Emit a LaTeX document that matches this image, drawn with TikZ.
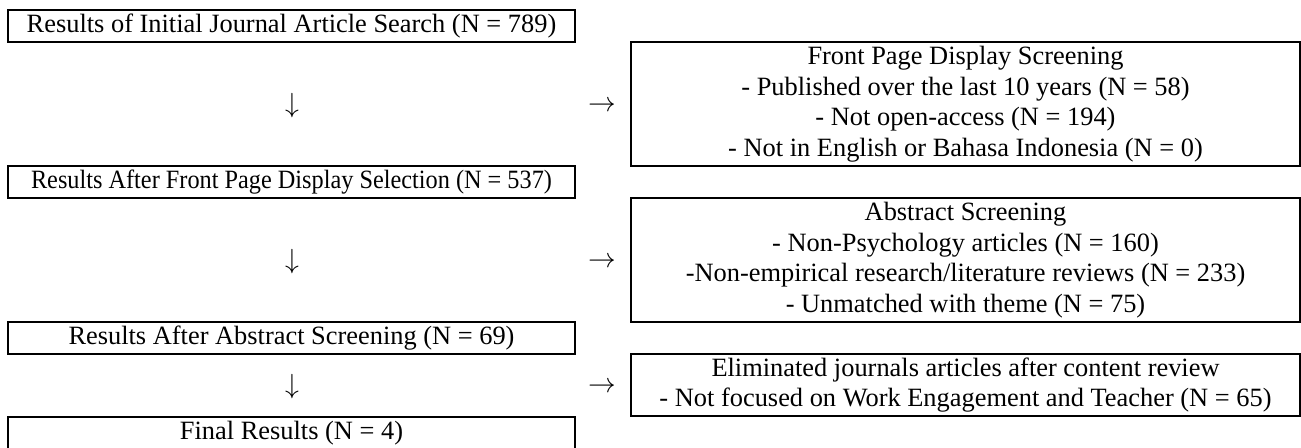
\documentclass[tikz,border=0pt]{standalone}
\usepackage{fontspec}
\setmainfont{Liberation Serif}
\newdimen\pxu
\pxu=0.75pt
\begin{document}
\begin{tikzpicture}[x=0.75pt,y=-0.75pt,
  txt/.style={font=\fontsize{19.8pt}{22.9pt}\selectfont},
  box/.style={txt,draw=black,line width=1.1pt,inner sep=0pt,align=center,rectangle},
  leftbox/.style={box,minimum width=567\pxu,minimum height=32\pxu},
  rightbox/.style={box,minimum width=669\pxu},
  glyph/.style={txt,inner sep=0pt}]
\useasboundingbox (0,0) rectangle (1301,447);
\clip (0,0) rectangle (1301,447);
% left column
\node[leftbox] (a) at (291.5,26) {Results of Initial Journal Article Search (N = 789)};
\node[leftbox] (b) at (291.5,182) {\scalebox{0.92}[1]{Results After Front Page Display Selection (N = 537)}};
\node[leftbox] (c) at (291.5,338) {Results After Abstract Screening (N = 69)};
\node[leftbox] (d) at (291.5,433) {Final Results (N = 4)};
% right column
\node[rightbox,minimum height=124\pxu] (fp) at (965.5,104) {Front Page Display Screening\\- Published over the last 10 years (N = 58)\\- Not open-access (N = 194)\\- Not in English or Bahasa Indonesia (N = 0)};
\node[rightbox,minimum height=124\pxu] (as) at (965.5,260) {Abstract Screening\\- Non-Psychology articles (N = 160)\\-Non-empirical research/literature reviews (N = 233)\\- Unmatched with theme (N = 75)};
\node[rightbox,minimum height=62\pxu] (el) at (965.5,385) {Eliminated journals articles after content review\\- Not focused on Work Engagement and Teacher (N = 65)};
% arrow glyphs
\node[glyph] (d1) at (292,106) {$\downarrow$};
\node[glyph] (r1) at (602,106) {$\rightarrow$};
\node[glyph] (d2) at (292,262) {$\downarrow$};
\node[glyph] (r2) at (602,262) {$\rightarrow$};
\node[glyph] (d3) at (292,387) {$\downarrow$};
\node[glyph] (r3) at (602,387) {$\rightarrow$};
\end{tikzpicture}
\end{document}
